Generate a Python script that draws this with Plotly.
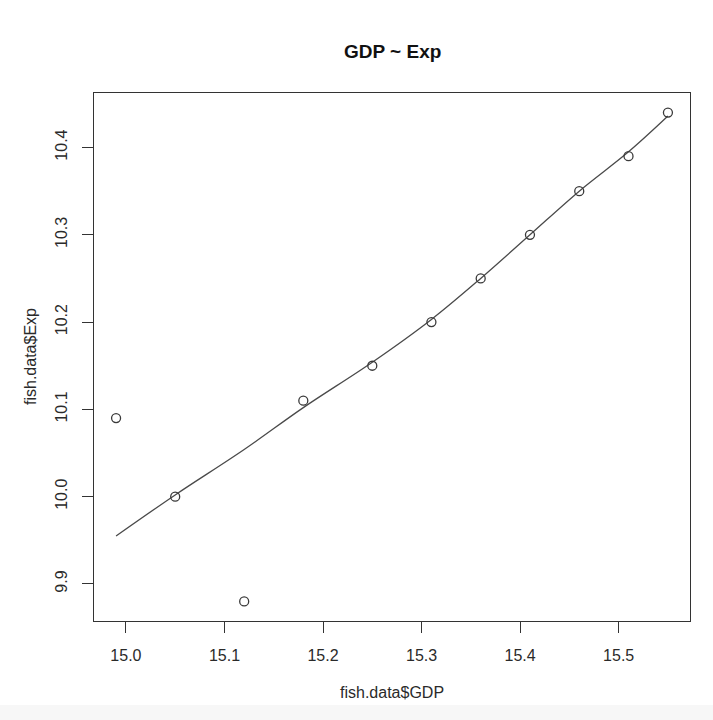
import plotly.graph_objects as go

gdp = [14.99, 15.05, 15.12, 15.18, 15.25, 15.31, 15.36, 15.41, 15.46, 15.51, 15.55]
exp_vals = [10.09, 10.00, 9.88, 10.11, 10.15, 10.20, 10.25, 10.30, 10.35, 10.39, 10.44]
fitted = [9.955, 10.002, 10.054, 10.102, 10.154, 10.203, 10.250, 10.300, 10.350, 10.395, 10.436]

x_ticks = [15.0, 15.1, 15.2, 15.3, 15.4, 15.5]
x_labels = ["15.0", "15.1", "15.2", "15.3", "15.4", "15.5"]
y_ticks = [9.9, 10.0, 10.1, 10.2, 10.3, 10.4]
y_labels = ["9.9", "10.0", "10.1", "10.2", "10.3", "10.4"]

FONT = "Liberation Sans, Arial, Helvetica, sans-serif"
INK = "#3a3a3a"

fig = go.Figure()
fig.add_trace(go.Scatter(
    x=gdp, y=fitted, mode="lines",
    line=dict(color="#4a4a4a", width=1.3, shape="spline"),
    hoverinfo="skip", showlegend=False,
))
fig.add_trace(go.Scatter(
    x=gdp, y=exp_vals, mode="markers",
    marker=dict(symbol="circle-open", size=9, color=INK, line=dict(width=1.3, color=INK)),
    showlegend=False,
))

xr = (min(gdp), max(gdp))
yr = (min(exp_vals), max(exp_vals))
dx = (xr[1] - xr[0]) * 0.04
dy = (yr[1] - yr[0]) * 0.04

axis_common = dict(
    showgrid=False, zeroline=False, showline=True, mirror=True,
    linecolor="#333333", linewidth=1.2,
    ticks="outside", ticklen=11, tickwidth=1.1, tickcolor="#333333",
    tickfont=dict(family=FONT, size=16, color="#2a2a2a"),
)

fig.update_layout(
    width=713, height=720,
    margin=dict(l=94, r=23, t=93, b=99),
    paper_bgcolor="white", plot_bgcolor="white",
    xaxis=dict(range=[xr[0] - dx, xr[1] + dx], tickvals=x_ticks, ticktext=x_labels,
               ticklabelstandoff=9, **axis_common),
    yaxis=dict(range=[yr[0] - dy, yr[1] + dy], tickvals=y_ticks, ticktext=y_labels,
               tickangle=-90, ticklabelstandoff=9, **axis_common),
    annotations=[
        dict(text="<b>GDP ~ Exp</b>", x=0.5, y=1, xref="paper", yref="paper",
             xanchor="center", yanchor="middle", yshift=42, showarrow=False,
             font=dict(family=FONT, size=19, color="#111111")),
        dict(text="fish.data$GDP", x=0.5, y=0, xref="paper", yref="paper",
             xanchor="center", yanchor="middle", yshift=-71, showarrow=False,
             font=dict(family=FONT, size=16, color="#2a2a2a")),
        dict(text="fish.data$Exp", x=0, y=0.5, xref="paper", yref="paper",
             xanchor="center", yanchor="middle", xshift=-64, textangle=-90, showarrow=False,
             font=dict(family=FONT, size=16, color="#2a2a2a")),
    ],
    shapes=[
        dict(type="rect", xref="paper", yref="paper", x0=-0.2, x1=1.1,
             y0=-99/528, y1=-84/528, fillcolor="#f7f7f7", line=dict(width=0), layer="below"),
    ],
)

fig.write_html("out.html")
